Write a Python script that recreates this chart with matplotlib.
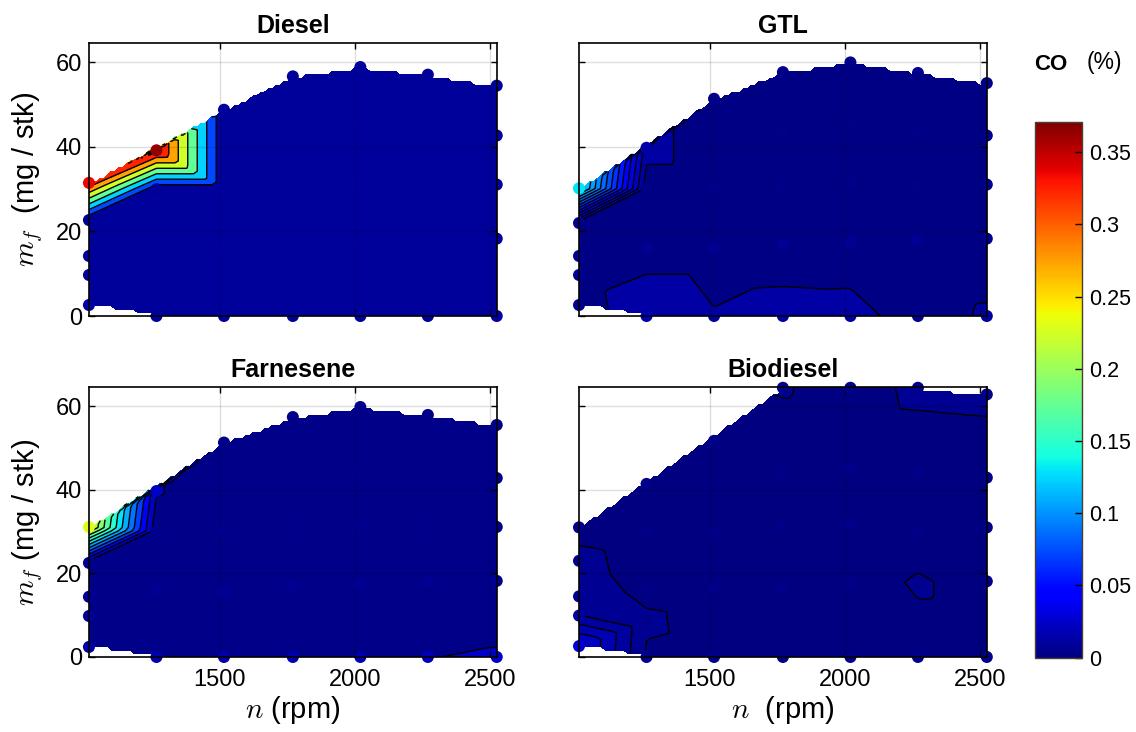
import numpy as np
import matplotlib
matplotlib.use("Agg")
import matplotlib.pyplot as plt
import matplotlib.tri as mtri
from matplotlib.colors import Normalize
from matplotlib.cm import ScalarMappable

plt.rcParams["font.family"] = ["Liberation Sans", "DejaVu Sans"]
plt.rcParams["mathtext.fontset"] = "cm"

# measured operating points: engine speed (rpm), fuel mass (mg/stk), CO (%)
diesel_n = [1015, 1015, 1015, 1015, 1015, 1265, 1265, 1265, 1265, 1515, 1515, 1515, 1515,
            1770, 1770, 1770, 1770, 1770, 2020, 2020, 2020, 2020, 2020,
            2270, 2270, 2270, 2270, 2270, 2525, 2525, 2525, 2525, 2525]
diesel_mf = [2.6, 9.7, 14.2, 22.7, 31.5, 0.0, 16.0, 30.0, 39.2, 0.0, 16.0, 30.0, 48.8,
             0.0, 17.0, 31.0, 44.0, 56.7, 0.0, 17.5, 31.5, 45.0, 58.9,
             0.0, 18.0, 31.0, 44.0, 57.1, 0.0, 18.3, 31.1, 42.7, 54.5]
diesel_co = [0.012, 0.011, 0.010, 0.008, 0.335, 0.011, 0.009, 0.008, 0.365, 0.010, 0.009, 0.009, 0.009,
             0.010, 0.009, 0.009, 0.009, 0.010, 0.011, 0.009, 0.009, 0.009, 0.010,
             0.011, 0.009, 0.009, 0.009, 0.010, 0.012, 0.010, 0.009, 0.009, 0.010]

gtl_n = diesel_n
gtl_mf = [2.6, 9.7, 14.2, 22.0, 30.2, 0.0, 16.0, 30.0, 39.8, 0.0, 16.0, 30.0, 51.4,
          0.0, 17.0, 31.0, 44.0, 57.7, 0.0, 17.5, 31.5, 45.0, 60.0,
          0.0, 18.0, 31.0, 44.0, 57.5, 0.0, 18.3, 31.1, 42.7, 55.1]
gtl_co = [0.005, 0.006, 0.006, 0.004, 0.130, 0.0165, 0.006, 0.004, 0.014, 0.0106, 0.006, 0.004, 0.004,
          0.0128, 0.006, 0.004, 0.004, 0.004, 0.0124, 0.006, 0.004, 0.004, 0.004,
          0.007, 0.006, 0.004, 0.004, 0.004, 0.0108, 0.006, 0.004, 0.004, 0.004]

farnesene_n = diesel_n
farnesene_mf = [2.4, 9.8, 14.4, 22.5, 31.1, 0.0, 16.0, 30.0, 39.7, 0.0, 15.6, 30.0, 51.3,
                0.0, 17.0, 31.0, 44.0, 57.4, 0.0, 17.5, 31.5, 45.0, 59.8,
                0.0, 18.0, 31.0, 44.0, 57.9, 0.0, 18.2, 31.1, 42.8, 55.5]
farnesene_co = [0.013, 0.010, 0.008, 0.005, 0.230, 0.015, 0.007, 0.005, 0.022, 0.014, 0.007, 0.005, 0.004,
                0.015, 0.006, 0.005, 0.004, 0.004, 0.016, 0.006, 0.005, 0.004, 0.004,
                0.0195, 0.006, 0.005, 0.004, 0.004, 0.022, 0.006, 0.005, 0.004, 0.004]

biodiesel_n = [1015, 1015, 1015, 1015, 1015, 1265, 1265, 1265, 1265, 1265, 1515, 1515, 1515, 1515,
               1770, 1770, 1770, 1770, 1770, 2020, 2020, 2020, 2020, 2020,
               2270, 2270, 2270, 2270, 2270, 2525, 2525, 2525, 2525, 2525]
biodiesel_mf = [2.6, 9.9, 14.5, 23.0, 31.0, 0.0, 8.5, 16.0, 30.0, 41.4, 0.0, 16.5, 29.6, 51.7,
                0.0, 16.5, 31.0, 44.0, 64.4, 0.0, 17.7, 32.0, 45.0, 64.4,
                0.0, 18.0, 30.0, 44.0, 64.4, 0.0, 18.1, 31.0, 42.9, 62.8]
biodiesel_co = [0.027, 0.0102, 0.0065, 0.0056, 0.0043, 0.0045, 0.0055, 0.0043, 0.0040, 0.0038,
                0.0040, 0.0038, 0.0037, 0.0035,
                0.0040, 0.0038, 0.0036, 0.0036, 0.0052, 0.0040, 0.0038, 0.0036, 0.0036, 0.0040,
                0.0040, 0.0053, 0.0037, 0.0036, 0.0055, 0.0040, 0.0040, 0.0037, 0.0036, 0.0055]

fuels = ["Diesel", "GTL", "Farnesene", "Biodiesel"]
level_steps = [0.05, 0.01, 0.02, 0.005]
data = [
    (diesel_n, diesel_mf, diesel_co),
    (gtl_n, gtl_mf, gtl_co),
    (farnesene_n, farnesene_mf, farnesene_co),
    (biodiesel_n, biodiesel_mf, biodiesel_co),
]

co_max = 0.371
x_lim = (1015, 2526)
y_lim = (0, 64.6)

cmap = plt.get_cmap("jet")
norm = Normalize(vmin=0.0, vmax=co_max)

fig = plt.figure(figsize=(11.36, 7.32), dpi=100)
positions = [
    [0.0783, 0.5683, 0.3592, 0.3730],
    [0.5097, 0.5683, 0.3592, 0.3730],
    [0.0783, 0.1025, 0.3592, 0.3689],
    [0.5097, 0.1025, 0.3592, 0.3689],
]
x_labels = [None, None, r"$n$ (rpm)", r"$n$  (rpm)"]
y_labels = [r"$m_f$  (mg / stk)", None, r"$m_f$ (mg / stk)", None]

xg = np.linspace(x_lim[0], 2525, 110)
yg = np.linspace(0, 64.4, 80)
Xg, Yg = np.meshgrid(xg, yg)

for i, (name, step, (n, mf, co)) in enumerate(zip(fuels, level_steps, data)):
    ax = fig.add_axes(positions[i])
    n = np.asarray(n, float)
    mf = np.asarray(mf, float)
    co = np.asarray(co, float)

    # triangulate in screen-like units so the mesh is not stretched along rpm
    screen = mtri.Triangulation(n * 0.27, mf * 4.23)
    tri = mtri.Triangulation(n, mf, screen.triangles)
    Z = mtri.LinearTriInterpolator(tri, co)(Xg, Yg)

    levels = np.arange(0, co.max() + step, step)
    band_colors = [cmap(norm(lo + (0.45 if lo >= 0.05 else 0.2) * step))
                   for lo in levels[:-1]]
    ax.contourf(Xg, Yg, Z, levels=levels, colors=band_colors, zorder=1)
    ax.contour(Xg, Yg, Z, levels=levels[1:], colors="k", linewidths=1.0, zorder=2)
    ax.scatter(n, mf, c=co, cmap=cmap, norm=norm, s=75, edgecolors="none",
               zorder=5, clip_on=False)

    ax.set_xlim(x_lim)
    ax.set_ylim(y_lim)
    ax.set_xticks([1500, 2000, 2500])
    ax.set_yticks([0, 20, 40, 60])
    ax.grid(True, color="k", alpha=0.13, linewidth=1.0)
    ax.set_axisbelow(False)
    ax.tick_params(direction="in", top=True, right=True, length=4, width=1.0,
                   labelsize=17)
    ax.tick_params(axis="x", pad=9)
    ax.tick_params(axis="y", pad=5)
    for sp in ax.spines.values():
        sp.set_linewidth(1.2)
        sp.set_zorder(6)
    if x_labels[i] is None:
        ax.set_xticklabels([])
    else:
        ax.set_xlabel(x_labels[i], fontsize=21, labelpad=2)
    if y_labels[i] is None:
        ax.set_yticklabels([])
    else:
        ax.set_ylabel(y_labels[i], fontsize=21, labelpad=8)
    ax.set_title(name, fontsize=18, fontweight="bold", pad=7)

cax = fig.add_axes([0.9111, 0.1015, 0.0411, 0.7322])
sm = ScalarMappable(norm=norm, cmap=cmap)
cb = fig.colorbar(sm, cax=cax, ticks=np.arange(0, 0.36, 0.05))
cb.ax.set_yticklabels(["0", "0.05", "0.1", "0.15", "0.2", "0.25", "0.3", "0.35"])
cb.ax.tick_params(direction="in", length=5, width=1.0, labelsize=15.5, pad=5)
cb.outline.set_edgecolor("#4a4030")
cb.outline.set_linewidth(1.0)

fig.text(1034 / 1136, 1 - 65 / 732, "CO", fontsize=16, fontweight="bold",
         ha="left", va="center")
fig.text(1087 / 1136, 1 - 62 / 732, "(%)", fontsize=16.5, ha="left", va="center")

fig.savefig("out.png", dpi=100)
